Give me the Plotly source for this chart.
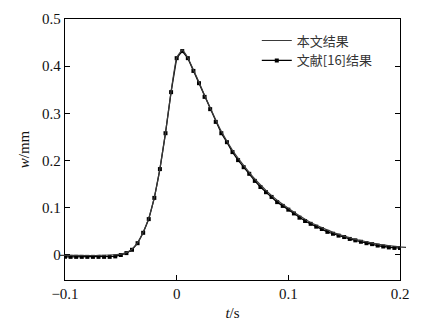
import plotly.graph_objects as go

# 文献[16]结果: sampled every 5 ms
t_ref = [round(-0.100 + 0.005 * i, 3) for i in range(61)]
w_ref = [-0.004, -0.004, -0.004, -0.004, -0.004, -0.004, -0.004, -0.004, -0.004, -0.003,
         0.000, 0.004, 0.011, 0.025, 0.047, 0.076, 0.121, 0.182, 0.258, 0.345,
         0.417, 0.432, 0.417, 0.390, 0.364, 0.335, 0.309, 0.282, 0.258, 0.239,
         0.218, 0.201, 0.186, 0.172, 0.157, 0.144, 0.133, 0.123, 0.112, 0.104,
         0.096, 0.088, 0.079, 0.072, 0.066, 0.060, 0.055, 0.049, 0.045, 0.041,
         0.038, 0.034, 0.031, 0.028, 0.025, 0.023, 0.020, 0.018, 0.016, 0.015,
         0.015]

# 本文结果: computed curve
t_cur = [-0.106, -0.09, -0.07, -0.06, -0.05, -0.045, -0.04, -0.035, -0.03, -0.025,
         -0.02, -0.015, -0.01, -0.005, 0.0, 0.005, 0.01, 0.015, 0.02, 0.025,
         0.03, 0.035, 0.04, 0.05, 0.06, 0.07, 0.08, 0.09, 0.10, 0.11,
         0.12, 0.13, 0.14, 0.15, 0.16, 0.17, 0.18, 0.19, 0.20, 0.206]
w_cur = [-0.001, -0.001, -0.001, 0.000, 0.002, 0.005, 0.012, 0.026, 0.048, 0.078,
         0.122, 0.183, 0.259, 0.346, 0.418, 0.434, 0.418, 0.392, 0.366, 0.338,
         0.312, 0.286, 0.262, 0.222, 0.190, 0.161, 0.137, 0.116, 0.099, 0.083,
         0.069, 0.058, 0.048, 0.040, 0.033, 0.028, 0.023, 0.020, 0.017, 0.016]

x_range = [-0.1, 0.2]
y_range = [-0.053, 0.5]
x_ticks = [-0.1, 0.0, 0.1, 0.2]
x_labels = ["\u22120.1", "0", "0.1", "0.2"]
y_ticks = [0.0, 0.1, 0.2, 0.3, 0.4, 0.5]
y_labels = ["0", "0.1", "0.2", "0.3", "0.4", "0.5"]

W, H = 434, 331
ml, mr, mt, mb = 59, 28, 19, 51
ext = 6  # px the computed curve runs past the frame on each side
paper_w = W - ml - mr
d0 = ext / paper_w
d1 = 1 - ext / paper_w
span = x_range[1] - x_range[0]
px_unit = span / (paper_w - 2 * ext)
x2_range = [x_range[0] - ext * px_unit, x_range[1] + ext * px_unit]

num_font = dict(family="Liberation Serif", size=15, color="#111")

fig = go.Figure()
fig.add_trace(go.Scatter(
    x=t_ref, y=w_ref, mode="lines+markers", name="文献[16]结果",
    line=dict(color="black", width=1.3),
    marker=dict(symbol="square", size=4, color="black"),
    xaxis="x", yaxis="y",
))
fig.add_trace(go.Scatter(
    x=t_cur, y=w_cur, mode="lines", name="本文结果",
    line=dict(color="#3a3a3a", width=1.2, shape="spline", smoothing=0.4),
    xaxis="x2", yaxis="y2",
))

fig.update_layout(
    width=W, height=H,
    margin=dict(l=ml, r=mr, t=mt, b=mb),
    paper_bgcolor="white", plot_bgcolor="rgba(0,0,0,0)",
    font=dict(family="Liberation Serif"),
    showlegend=True,
    legend=dict(
        x=0.57, y=0.975, xanchor="left", yanchor="top",
        traceorder="reversed",
        bgcolor="rgba(0,0,0,0)",
        font=dict(family="Noto Sans CJK SC", size=13, color="#333"),
        itemwidth=30, tracegroupgap=0,
    ),
    xaxis=dict(
        domain=[d0, d1], range=x_range,
        tickmode="array", tickvals=x_ticks, ticktext=x_labels,
        ticks="inside", ticklen=5, tickcolor="black", tickwidth=1,
        showline=True, linecolor="black", linewidth=1.3, mirror=True,
        showgrid=False, zeroline=False, tickfont=num_font,
        title=dict(text="<i>t</i>/s", font=num_font, standoff=6),
    ),
    yaxis=dict(
        domain=[0, 1], range=y_range,
        tickmode="array", tickvals=y_ticks, ticktext=y_labels,
        ticks="inside", ticklen=5, tickcolor="black", tickwidth=1,
        showline=True, linecolor="black", linewidth=1.3, mirror="ticks",
        showgrid=False, zeroline=False, tickfont=num_font,
        title=dict(text="<i>w</i>/mm", font=num_font, standoff=8),
    ),
    xaxis2=dict(domain=[0, 1], range=x2_range, visible=False, anchor="y2"),
    yaxis2=dict(domain=[0, 1], range=y_range, visible=False, anchor="x2"),
)

fig.write_html("out.html")
